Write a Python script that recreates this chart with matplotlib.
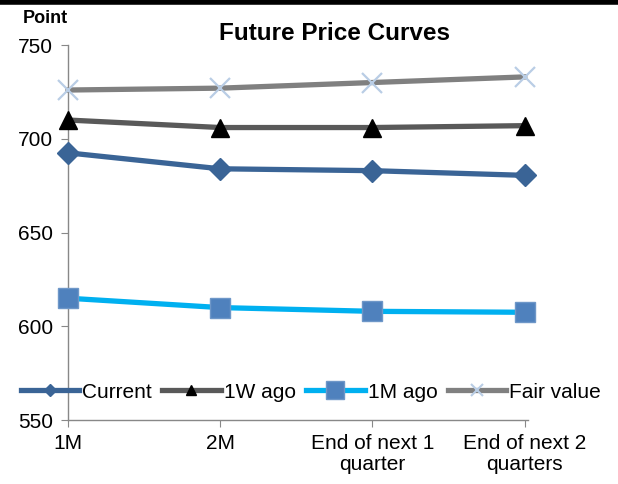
import numpy as np
import matplotlib.pyplot as plt
from matplotlib.lines import Line2D

plt.rcParams['font.family'] = ['Liberation Sans', 'DejaVu Sans']

categories = ["1M", "2M", "End of next 1\nquarter", "End of next 2\nquarters"]
current = [692.5, 684, 683, 680.5]
week_ago = [710, 706, 706, 707]
month_ago = [615, 610, 608, 607.5]
fair_value = [726, 727, 730, 733]

fig = plt.figure(figsize=(6.18, 4.84), dpi=100)
ax = fig.add_axes([0.110, 0.132, 0.744, 0.775])
x = np.arange(len(categories))

ax.plot(x, fair_value, color="#808080", lw=3.8, marker="x", ms=14, mew=1.6,
        mec="#B9CDE5", label="Fair value", zorder=3, clip_on=False)
ax.plot(x, week_ago, color="#595959", lw=3.8, marker="^", ms=13, mfc="black",
        mec="black", label="1W ago", zorder=3, clip_on=False)
ax.plot(x, current, color="#3A6496", lw=3.8, marker="D", ms=11, mfc="#3A6496",
        mec="#3A6496", label="Current", zorder=3, clip_on=False)
ax.plot(x, month_ago, color="#00B0F0", lw=3.8, marker="s", ms=15, mfc="#4F81BD",
        mec="#6E97C8", label="1M ago", zorder=3, clip_on=False)

ax.set_xlim(0, 3.02)
ax.set_ylim(550, 750)
ax.set_yticks([550, 600, 650, 700, 750])
ax.set_xticks(x)
ax.set_xticklabels(categories, fontsize=15, linespacing=1.1)
ax.tick_params(axis="y", labelsize=15, length=5, color="#888888", pad=6)
ax.tick_params(axis="x", length=5, color="#888888", pad=5)
for s in ["top", "right"]:
    ax.spines[s].set_visible(False)
for s in ["left", "bottom"]:
    ax.spines[s].set_color("#888888")
    ax.spines[s].set_linewidth(1)

ax.set_title("Future Price Curves", fontsize=17.5, fontweight="bold", pad=-17, x=0.58)
fig.text(0.073, 0.962, "Point", fontsize=13, fontweight="bold", ha="center", va="center")

handles = [
    Line2D([], [], color="#3A6496", lw=3.8, marker="D", ms=6, mfc="#3A6496", mec="#3A6496"),
    Line2D([], [], color="#595959", lw=3.8, marker="^", ms=7, mfc="black", mec="black"),
    Line2D([], [], color="#00B0F0", lw=3.8, marker="s", ms=13, mfc="#4F81BD", mec="#6E97C8"),
    Line2D([], [], color="#808080", lw=3.8, marker="x", ms=8, mew=1.5, mec="#B9CDE5"),
]
fig.legend(handles, ["Current", "1W ago", "1M ago", "Fair value"], loc="center",
           bbox_to_anchor=(0.503, 0.19), ncol=4, frameon=False, fontsize=15,
           handlelength=2.8, handletextpad=0.15, columnspacing=0.5)

fig.add_artist(Line2D([0, 1], [0.995, 0.995], color="black", lw=4, transform=fig.transFigure))

fig.savefig("out.png", dpi=100)
